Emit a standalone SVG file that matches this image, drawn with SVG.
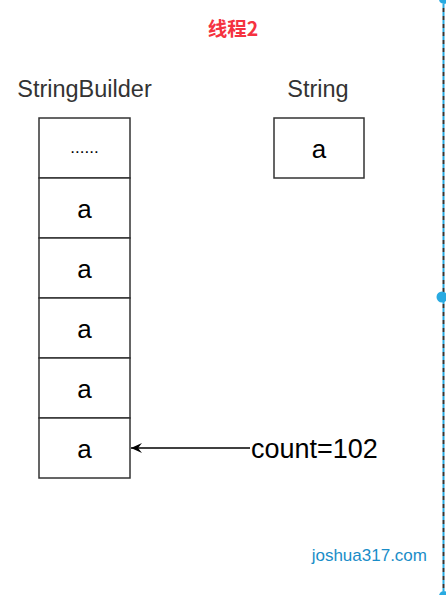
<svg xmlns="http://www.w3.org/2000/svg" width="446" height="595" viewBox="0 0 446 595">
<style>
.cell{fill:#fff;stroke:#333;stroke-width:1.5}
.big{font-family:"Liberation Sans",Arial,sans-serif;font-size:26px;fill:#000;text-anchor:middle}
.lbl{font-family:"Liberation Sans",Arial,sans-serif;font-size:23.5px;fill:#333;text-anchor:middle}
.handle{fill:#29aae1}
</style>
<defs>
<marker id="ah" viewBox="0 0 12 12" refX="11" refY="6" markerWidth="12" markerHeight="12" markerUnits="userSpaceOnUse" orient="auto">
<path d="M0,1 L11,6 L0,11 L4,6 Z" fill="#000"/>
</marker>
</defs>
<rect width="446" height="595" fill="#fff"/>
<text x="233" y="36" font-family="'Noto Sans CJK SC',sans-serif" font-size="19.5" font-weight="bold" fill="#f53240" text-anchor="middle">线程2</text>
<g id="label-sb"><text class="lbl" x="84.5" y="97">StringBuilder</text></g>
<g id="label-str"><text class="lbl" x="318" y="97">String</text></g>
<g id="sb">
<rect class="cell" x="39" y="118" width="91" height="60"/>
<text x="84.5" y="153" font-family="'Liberation Sans',Arial,sans-serif" font-size="17" text-anchor="middle" fill="#000">......</text>
<rect class="cell" x="39" y="178" width="91" height="60"/>
<text class="big" x="84.5" y="218">a</text>
<rect class="cell" x="39" y="238" width="91" height="60"/>
<text class="big" x="84.5" y="278">a</text>
<rect class="cell" x="39" y="298" width="91" height="60"/>
<text class="big" x="84.5" y="338">a</text>
<rect class="cell" x="39" y="358" width="91" height="60"/>
<text class="big" x="84.5" y="398">a</text>
<rect class="cell" x="39" y="418" width="91" height="60"/>
<text class="big" x="84.5" y="458">a</text>
</g>
<g id="str">
<rect class="cell" x="274" y="118" width="90" height="60"/>
<text class="big" x="319" y="158">a</text>
</g>
<g id="count"><text x="251" y="458" font-family="'Liberation Sans',Arial,sans-serif" font-size="27" fill="#000">count=102</text></g>
<g id="connectors">
<line x1="250" y1="448" x2="131" y2="448" stroke="#000" stroke-width="1.5" marker-end="url(#ah)"/>
</g>
<text x="427" y="561" font-family="'Liberation Sans',Arial,sans-serif" font-size="17" fill="#1a8dc8" text-anchor="end">joshua317.com</text>
<line x1="443.5" y1="4" x2="443.5" y2="591" stroke="#29aae1" stroke-width="2" stroke-dasharray="4 4"/>
<line x1="443.5" y1="8" x2="443.5" y2="591" stroke="#333" stroke-width="2" stroke-dasharray="4 4"/>
<circle class="handle" cx="444" cy="-1" r="5"/>
<circle class="handle" cx="442" cy="297" r="5.5"/>
<circle class="handle" cx="444" cy="596" r="5"/>
</svg>
